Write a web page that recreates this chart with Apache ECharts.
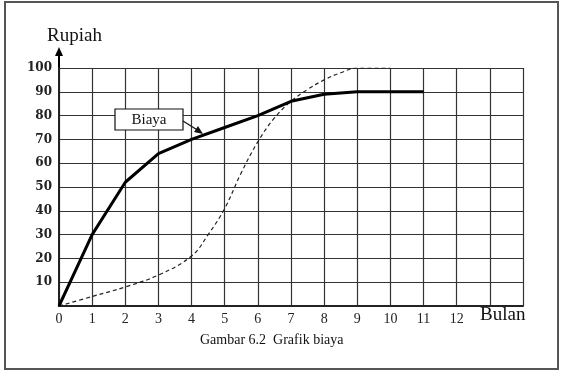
<!DOCTYPE html>
<html>
<head>
<meta charset="utf-8">
<script src="https://cdn.jsdelivr.net/npm/echarts@6/dist/echarts.min.js"></script>
<style>
html, body { margin: 0; padding: 0; background: #fff; }
#main { width: 563px; height: 377px; }
</style>
</head>
<body>
<div id="main"></div>
<script>
var chart = echarts.init(document.getElementById('main'));

// biaya (solid line), per month
var biayaMonths = [0, 1, 2, 3, 4, 5, 6, 7, 8, 9, 10, 11];
var biayaValues = [0, 30, 52, 64, 70, 75, 80, 86, 89, 90, 90, 90];

// dashed S-curve
var dashMonths = [0, 1, 2, 3, 4, 4.5, 5, 5.5, 6, 6.5, 7, 7.5, 8, 8.5, 9, 10];
var dashValues = [0, 4, 8, 13, 21, 30, 41, 56, 69, 79, 86, 91, 95, 98, 100, 100];

var xTickLabels = ['0', '1', '2', '3', '4', '5', '6', '7', '8', '9', '10', '11', '12'];

function pairs(xs, ys) {
    return xs.map(function (x, i) { return [x, ys[i]]; });
}

var option = {
    animation: false,
    backgroundColor: '#fff',
    grid: {
        left: 59,
        right: 40,
        top: 68,
        bottom: 71
    },
    xAxis: {
        type: 'value',
        min: 0,
        max: 14,
        interval: 1,
        axisLine: { lineStyle: { color: '#222', width: 2 } },
        axisTick: { show: false },
        axisLabel: {
            margin: 6,
            color: '#222',
            fontFamily: 'Liberation Serif',
            fontSize: 14,
            formatter: function (v) {
                return xTickLabels[v] !== undefined ? xTickLabels[v] : '';
            }
        },
        splitLine: { show: true, lineStyle: { color: '#333', width: 1.2 } }
    },
    yAxis: {
        type: 'value',
        min: 0,
        max: 100,
        interval: 10,
        name: 'Rupiah',
        nameLocation: 'end',
        nameGap: 22,
        nameTextStyle: {
            color: '#111',
            fontFamily: 'Liberation Serif',
            fontSize: 19,
            align: 'left',
            padding: [0, 0, 0, -12]
        },
        axisLine: { lineStyle: { color: '#222', width: 2 } },
        axisTick: { show: false },
        axisLabel: {
            margin: 7,
            color: '#222',
            fontFamily: 'DejaVu Serif',
            fontWeight: 'bold',
            fontSize: 12,
            formatter: function (v) { return v === 0 ? '' : String(v); }
        },
        splitLine: { show: true, lineStyle: { color: '#333', width: 1.2 } }
    },
    series: [
        {
            name: 'Biaya',
            type: 'line',
            data: pairs(biayaMonths, biayaValues),
            showSymbol: false,
            lineStyle: { color: '#000', width: 3 },
            z: 5
        },
        {
            name: 'S',
            type: 'line',
            data: pairs(dashMonths, dashValues),
            smooth: 0.4,
            showSymbol: false,
            lineStyle: { color: '#222', width: 1.2, type: [4, 3] },
            z: 4
        }
    ],
    graphic: [
        {
            type: 'rect',
            shape: { x: 5, y: 2, width: 553, height: 367 },
            style: { fill: 'none', stroke: '#555', lineWidth: 2 },
            silent: true
        },
        // axis arrow
        {
            type: 'line',
            shape: { x1: 59, y1: 68, x2: 59, y2: 53 },
            style: { stroke: '#000', lineWidth: 2 }
        },
        {
            type: 'polygon',
            shape: { points: [[55, 56], [59, 47], [63, 56]] },
            style: { fill: '#000' }
        },
        {
            type: 'text',
            left: 480,
            top: 306,
            style: {
                text: 'Bulan',
                fontFamily: 'Liberation Serif',
                fontSize: 19,
                fill: '#111'
            }
        },
        {
            type: 'text',
            left: 200,
            top: 333,
            style: {
                text: 'Gambar 6.2  Grafik biaya',
                fontFamily: 'Liberation Serif',
                fontSize: 14,
                fill: '#111'
            }
        },
        // Biaya callout
        {
            type: 'rect',
            shape: { x: 115, y: 109, width: 68, height: 21 },
            style: { fill: '#fff', stroke: '#111', lineWidth: 1.2 },
            z: 10
        },
        {
            type: 'text',
            x: 149,
            y: 120,
            style: {
                text: 'Biaya',
                fontFamily: 'Liberation Serif',
                fontSize: 15,
                fill: '#111',
                align: 'center',
                verticalAlign: 'middle'
            },
            z: 11
        },
        {
            type: 'line',
            shape: { x1: 183, y1: 121, x2: 199, y2: 131 },
            style: { stroke: '#111', lineWidth: 1.2 },
            z: 10
        },
        {
            type: 'polygon',
            shape: { points: [[194, 132], [203, 134], [198, 126]] },
            style: { fill: '#111' },
            z: 10
        }
    ]
};

chart.setOption(option);

window.onresize = chart.resize;
</script>
</body>
</html>
